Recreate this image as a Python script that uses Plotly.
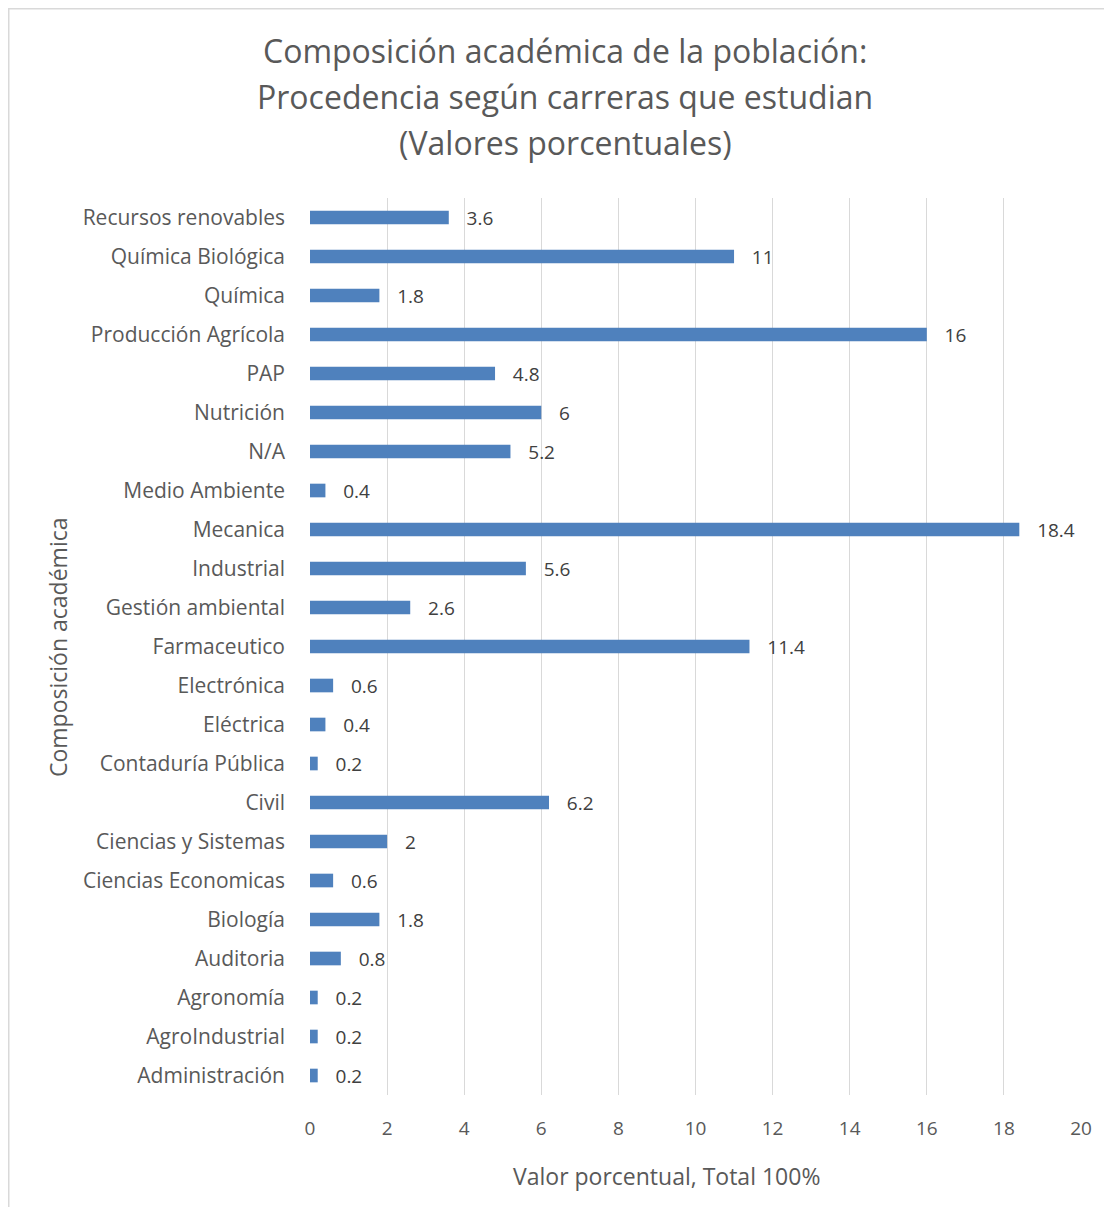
import plotly.graph_objects as go

categories = ["Administración", "AgroIndustrial", "Agronomía", "Auditoria", "Biología",
              "Ciencias Economicas", "Ciencias y Sistemas", "Civil", "Contaduría Pública",
              "Eléctrica", "Electrónica", "Farmaceutico", "Gestión ambiental", "Industrial",
              "Mecanica", "Medio Ambiente", "N/A", "Nutrición", "PAP", "Producción Agrícola",
              "Química", "Química Biológica", "Recursos renovables"]
values = [0.2, 0.2, 0.2, 0.8, 1.8, 0.6, 2, 6.2, 0.2, 0.4, 0.6, 11.4, 2.6, 5.6, 18.4,
          0.4, 5.2, 6, 4.8, 16, 1.8, 11, 3.6]
x_ticks = [0, 2, 4, 6, 8, 10, 12, 14, 16, 18, 20]
title_lines = ["Composición académica de la población:",
               "Procedencia según carreras que estudian",
               "(Valores porcentuales)"]
x_title = "Valor porcentual, Total 100%"
y_title = "Composición académica"

W, H = 1112, 1207
L, R, T, B = 302, 39, 190, 120
FONT = "Open Sans"
GRAY = "#595959"

fig = go.Figure(go.Bar(
    y=categories, x=values, orientation="h",
    marker=dict(color="#4f81bd", line=dict(width=0)),
    width=0.35,
    text=values, texttemplate="   %{x}", textposition="outside",
    constraintext="none",
    textfont=dict(family=FONT, size=19, color="#404040"),
    cliponaxis=False,
))

pw = W - L - R
ph = H - T - B
def px_x(p):
    return (p - L) / pw
def px_y(p):
    return 1 - (p - T) / ph

title_y = [42, 89, 135]
annotations = [dict(text=t, xref="paper", yref="paper", x=px_x(557), xanchor="center",
                    y=px_y(yy), yanchor="middle", showarrow=False,
                    font=dict(family=FONT, size=32, color=GRAY))
               for t, yy in zip(title_lines, title_y)]
annotations.append(dict(text=x_title, xref="paper", yref="paper", x=px_x(658), xanchor="center",
                        y=px_y(1168), yanchor="middle", showarrow=False,
                        font=dict(family=FONT, size=23, color=GRAY)))
annotations.append(dict(text=y_title, xref="paper", yref="paper", x=px_x(50), xanchor="center",
                        y=px_y(639), yanchor="middle", showarrow=False, textangle=-90,
                        font=dict(family=FONT, size=23, color=GRAY)))

fig.update_layout(
    width=W, height=H,
    margin=dict(l=L, r=R, t=T, b=B),
    paper_bgcolor="white", plot_bgcolor="white",
    showlegend=False,
    xaxis=dict(range=[0, 20], tickvals=x_ticks, showgrid=True, gridcolor="#d9d9d9",
               gridwidth=1.3, zeroline=False, showline=False,
               tickfont=dict(family=FONT, size=19, color=GRAY), ticks="",
               ticklabelstandoff=20),
    yaxis=dict(showgrid=False, showline=False, ticks="", ticklabelstandoff=24,
               tickfont=dict(family=FONT, size=21, color=GRAY),
               range=[-0.5, len(categories) - 0.5]),
    shapes=[dict(type="rect", xref="paper", yref="paper",
                 x0=px_x(0.75), x1=px_x(W + 20), y0=px_y(H + 20), y1=px_y(0.75),
                 line=dict(color="#d9d9d9", width=1.5), fillcolor="rgba(0,0,0,0)", layer="below")],
    annotations=annotations,
)

fig.write_html("out.html")
